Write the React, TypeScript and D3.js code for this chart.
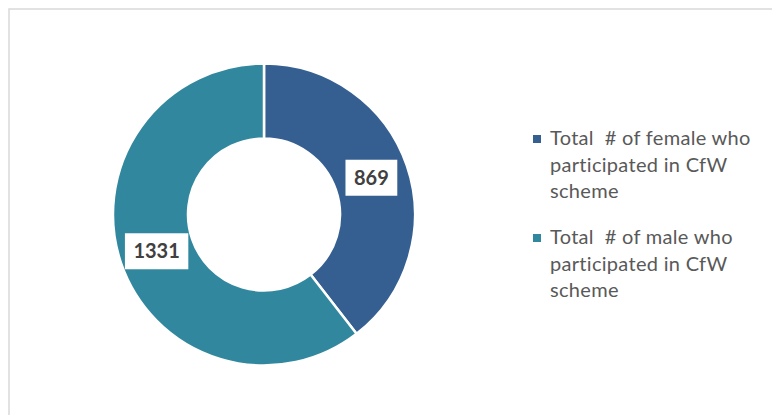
import React from "react";
import * as d3 from "d3";

const categories = [
  "Total  # of female who participated in CfW scheme",
  "Total  # of male who participated in CfW scheme",
];
const values = [869, 1331];
const legendLines = [
  ["Total  # of female who", "participated in CfW", "scheme"],
  ["Total  # of male who", "participated in CfW", "scheme"],
];
const colors = ["#365f91", "#31879e"];

export default function App() {
  const W = 772;
  const H = 415;
  const cx = 264;
  const cy = 214.5;
  const outerR = 151;
  const innerR = 76;

  const pie = d3.pie<number>().sort(null).value((d) => d);
  const arcs = pie(values);
  const arcGen = d3
    .arc<d3.PieArcDatum<number>>()
    .innerRadius(innerR)
    .outerRadius(outerR);
  const labelArc = d3
    .arc<d3.PieArcDatum<number>>()
    .innerRadius((innerR + outerR) / 2)
    .outerRadius((innerR + outerR) / 2);

  const labelFont = 20;
  const legendFont = 20;
  const lineH = 26.5;
  const legendX = 533;
  const legendY0 = 135;
  const entryGap = 99;

  return (
    <svg
      width={W}
      height={H}
      style={{ position: "absolute", left: 0, top: 0, background: "#fff" }}
    >
      <rect
        x={9}
        y={9}
        width={W + 20}
        height={H + 20}
        fill="#fff"
        stroke="#d9d9d9"
        strokeWidth={1.5}
      />
      <g transform={`translate(${cx},${cy})`}>
        {arcs.map((a, i) => (
          <path
            key={i}
            d={arcGen(a) || ""}
            fill={colors[i]}
            stroke="#fff"
            strokeWidth={2.5}
          />
        ))}
        {arcs.map((a, i) => {
          const [lx, ly] = labelArc.centroid(a);
          const txt = String(values[i]);
          const tw = txt.length * 0.58 * labelFont;
          const bw = tw + 17;
          const bh = 36;
          return (
            <g key={"l" + i}>
              <rect
                x={lx - bw / 2}
                y={ly - bh / 2}
                width={bw}
                height={bh}
                fill="#fff"
              />
              <text
                x={lx}
                y={ly}
                dy="0.36em"
                textAnchor="middle"
                fontFamily="Lato, 'Open Sans', sans-serif"
                fontWeight="bold"
                fontSize={labelFont}
                fill="#404040"
              >
                {txt}
              </text>
            </g>
          );
        })}
      </g>
      {categories.map((c, i) => {
        const y = legendY0 + i * entryGap;
        return (
          <g key={c}>
            <rect x={legendX} y={y} width={8} height={8} fill={colors[i]} />
            {legendLines[i].map((ln, j) => (
              <text
                key={j}
                x={legendX + 17}
                y={y + 10 + j * lineH}
                fontFamily="Lato, 'Open Sans', sans-serif"
                fontSize={legendFont}
                letterSpacing={0.3}
                fill="#595959"
                style={{ whiteSpace: "pre" }}
              >
                {ln}
              </text>
            ))}
          </g>
        );
      })}
    </svg>
  );
}
